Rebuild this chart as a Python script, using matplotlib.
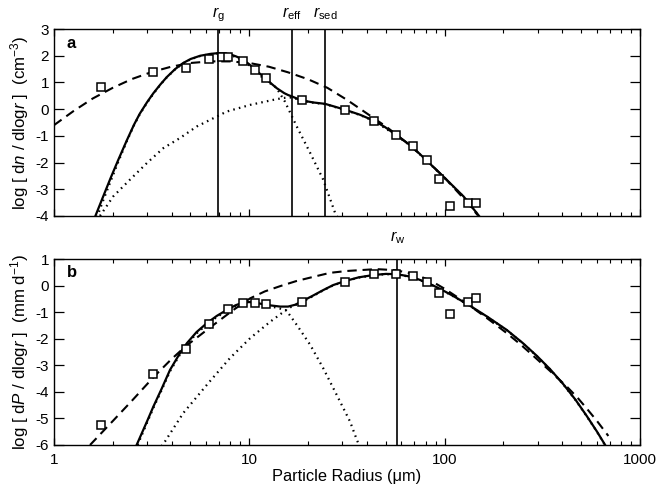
import matplotlib

matplotlib.use("Agg")
import matplotlib.pyplot as plt
import matplotlib.transforms as mtransforms
from matplotlib.ticker import LogLocator, NullFormatter, FixedLocator

plt.rcParams["font.family"] = ["Liberation Sans", "DejaVu Sans"]
plt.rcParams["mathtext.fontset"] = "custom"
plt.rcParams["mathtext.rm"] = "Liberation Sans"
plt.rcParams["mathtext.it"] = "Liberation Sans:italic"
plt.rcParams["mathtext.bf"] = "Liberation Sans:bold"

# ---------------- panel a: number distribution ----------------
a_obs_r = [1.74, 3.23, 4.75, 6.24, 7.24, 7.74, 9.25, 10.7, 12.2, 18.6,
           31.0, 43.4, 56.2, 68.5, 81.1, 93.5, 106, 131, 144]
a_obs_y = [0.83, 1.41, 1.54, 1.88, 1.94, 1.96, 1.80, 1.48, 1.15, 0.33,
           -0.02, -0.45, -0.95, -1.37, -1.91, -2.61, -3.62, -3.53, -3.52]

a_fit_r = [1.63, 1.78, 1.95, 2.14, 2.36, 2.57, 2.75, 2.99, 3.23, 3.51, 3.78, 4.17,
           4.59, 5.01, 5.60, 6.31, 6.93, 7.40, 7.96, 8.60, 9.31, 10.0, 10.7, 11.5,
           12.3, 13.0, 13.8, 14.4, 15.1, 15.8, 16.5, 17.5, 18.5, 21.3, 24.4, 27.5,
           30.9, 36.9, 43.4, 49.5, 56.0, 68.1, 80.5, 98.4, 125, 150]
a_fit_y = [-4.00, -3.30, -2.58, -1.88, -1.17, -0.58, -0.17, 0.25, 0.60, 0.93, 1.20, 1.50,
           1.73, 1.88, 2.00, 2.07, 2.10, 2.09, 2.06, 1.97, 1.85, 1.68, 1.48, 1.29,
           1.10, 0.95, 0.79, 0.70, 0.60, 0.53, 0.48, 0.40, 0.33, 0.25, 0.20, 0.09,
           -0.02, -0.21, -0.43, -0.67, -0.95, -1.40, -1.91, -2.52, -3.27, -4.00]

a_lognorm_r = [1.0, 1.26, 1.58, 2.0, 2.51, 3.16, 3.98, 5.01, 6.31, 7.94, 10.0, 12.6,
               15.8, 20.0, 25.1, 31.6, 39.8, 50.1, 63.1, 79.4, 100, 126, 148]
a_lognorm_y = [-0.60, -0.07, 0.40, 0.80, 1.13, 1.39, 1.59, 1.73, 1.79, 1.79, 1.73, 1.59,
               1.38, 1.12, 0.80, 0.35, -0.15, -0.65, -1.22, -1.86, -2.57, -3.37, -3.98]

a_small_r = [1.66, 1.78, 1.95, 2.14, 2.36, 2.57, 2.75, 2.99, 3.23, 3.51, 3.78, 4.17,
             4.59, 5.01, 5.60, 6.31, 6.93, 7.96, 9.31, 10.7, 12.3, 13.3, 13.9, 15.2,
             17.5, 20.5, 23.9, 27.5, 28.3]
a_small_y = [-4.05, -3.45, -2.70, -1.95, -1.20, -0.60, -0.19, 0.23, 0.58, 0.92, 1.19, 1.49,
             1.72, 1.87, 1.99, 2.06, 2.09, 2.04, 1.83, 1.45, 1.02, 0.91, 0.75, 0.29,
             -0.65, -1.64, -2.64, -3.89, -4.05]

a_large_r = [1.72, 2.01, 2.45, 2.99, 3.63, 4.42, 5.38, 6.93, 7.66, 10.1, 13.3, 14.9,
             16.6, 18.5, 21.3, 24.4, 30.9, 36.9, 43.4, 56.0, 68.1, 80.5, 98.4, 125, 150]
a_large_y = [-4.00, -3.27, -2.64, -2.02, -1.46, -1.08, -0.65, -0.25, -0.09, 0.16, 0.35, 0.42,
             0.44, 0.32, 0.24, 0.19, -0.03, -0.22, -0.44, -0.96, -1.41, -1.92, -2.53, -3.28, -4.00]

# ---------------- panel b: precipitation distribution ----------------
b_obs_r = [1.74, 3.23, 4.73, 6.24, 7.74, 9.29, 10.7, 12.2, 18.6,
           31.0, 43.4, 56.5, 68.9, 81.1, 93.5, 106, 131, 144]
b_obs_y = [-5.24, -3.33, -2.38, -1.44, -0.89, -0.64, -0.67, -0.70, -0.60,
           0.15, 0.44, 0.42, 0.37, 0.12, -0.29, -1.08, -0.63, -0.45]

b_fit_r = [2.65, 3.0, 3.23, 3.55, 3.93, 4.37, 4.79, 5.37, 6.05, 6.82, 7.66, 8.51,
           9.29, 10.0, 10.7, 12.3, 14.4, 15.8, 17.2, 18.5, 20.9, 23.9, 26.9, 30.9,
           36.3, 43.4, 50.1, 56.9, 67.6, 80.9, 94.6, 110, 135, 166, 208, 251, 296,
           347, 406, 468, 533, 603, 676]
b_fit_y = [-6.00, -5.10, -4.55, -3.90, -3.17, -2.60, -2.17, -1.75, -1.42, -1.14, -0.92, -0.74,
           -0.64, -0.62, -0.64, -0.73, -0.79, -0.79, -0.72, -0.60, -0.40, -0.17, 0.02, 0.17,
           0.31, 0.40, 0.44, 0.43, 0.33, 0.12, -0.12, -0.38, -0.76, -1.18, -1.67, -2.16, -2.64,
           -3.15, -3.72, -4.30, -4.90, -5.50, -6.10]

b_lognorm_r = [1.53, 2.0, 2.51, 3.23, 3.98, 4.73, 6.24, 8.28, 10.1, 12.0, 14.4, 17.4,
               21.3, 25.9, 31.6, 44.7, 56.2, 70.8, 85.1, 100, 117, 140, 170,
               208, 245, 284, 347, 422, 479, 533, 603, 689]
b_lognorm_y = [-6.00, -5.10, -4.33, -3.45, -2.78, -2.28, -1.60, -0.92, -0.48, -0.22, -0.02, 0.17,
               0.33, 0.48, 0.55, 0.62, 0.58, 0.42, 0.18, -0.12, -0.45, -0.85, -1.30,
               -1.79, -2.22, -2.64, -3.22, -3.80, -4.22, -4.62, -5.10, -5.66]

b_small_r = [2.68, 3.0, 3.23, 3.55, 3.93, 4.37, 4.79, 5.37, 6.05, 6.82, 7.66, 8.51,
             9.29, 10.0, 10.7, 12.3, 14.0, 15.5, 17.5, 20.5, 23.9, 28.0, 32.8, 35.5, 36.7]
b_small_y = [-6.00, -5.15, -4.60, -3.95, -3.22, -2.65, -2.22, -1.80, -1.47, -1.18, -0.96, -0.78,
             -0.68, -0.66, -0.68, -0.76, -0.84, -0.94, -1.48, -2.23, -3.11, -4.11, -5.12, -5.80, -6.05]

b_large_r = [3.55, 3.70, 4.59, 6.17, 7.96, 10.1, 12.8, 14.9, 16.2, 18.5, 20.9, 23.9,
             26.9, 30.9, 36.3, 43.4, 50.1, 56.9, 67.6, 80.9, 94.6, 110, 135, 166, 208,
             251, 296, 347, 406, 468, 533, 603, 676]
b_large_y = [-6.05, -5.87, -4.80, -3.67, -2.73, -1.98, -1.36, -1.00, -0.82, -0.63, -0.42, -0.18,
             0.01, 0.16, 0.30, 0.39, 0.43, 0.42, 0.32, 0.11, -0.13, -0.39, -0.77, -1.19, -1.68,
             -2.17, -2.65, -3.16, -3.73, -4.31, -4.91, -5.51, -6.11]

# characteristic radii (um)
R_G, R_EFF, R_SED = 6.93, 16.6, 24.5
R_W = 57.2

fig = plt.figure(figsize=(6.58, 4.93), dpi=100)
ax_a = fig.add_axes([0.082, 0.562, 0.8906, 0.379])
ax_b = fig.add_axes([0.082, 0.0974, 0.8906, 0.3772])

FIT = dict(color="black", lw=1.6, zorder=4)
LOGN = dict(color="black", lw=1.5, ls=(0, (4.5, 2.8)), zorder=3)
MODE = dict(color="black", lw=1.6, ls=(0, (0.7, 1.9)), zorder=2)
OBS = dict(ls="none", marker="s", ms=6.0, mfc="white", mec="black", mew=1.1, zorder=6)

ax_a.plot(a_small_r, a_small_y, **MODE)
ax_a.plot(a_large_r, a_large_y, **MODE)
ax_a.plot(a_lognorm_r, a_lognorm_y, **LOGN)
ax_a.plot(a_fit_r, a_fit_y, **FIT)
ax_a.plot(a_obs_r, a_obs_y, **OBS)

ax_b.plot(b_small_r, b_small_y, **MODE)
ax_b.plot(b_large_r, b_large_y, **MODE)
ax_b.plot(b_lognorm_r, b_lognorm_y, **LOGN)
ax_b.plot(b_fit_r, b_fit_y, **FIT)
ax_b.plot(b_obs_r, b_obs_y, **OBS)

for r in (R_G, R_EFF, R_SED):
    ax_a.axvline(r, color="black", lw=1.2, zorder=5)
ax_b.axvline(R_W, color="black", lw=1.2, zorder=5)

trans_a = mtransforms.blended_transform_factory(ax_a.transData, ax_a.transAxes)
trans_b = mtransforms.blended_transform_factory(ax_b.transData, ax_b.transAxes)
for r, lab in ((R_G, r"$r_{\rm g}$"), (R_EFF, r"$r_{\rm eff}$"), (R_SED, r"$r_{\rm sed}$")):
    ax_a.text(r, 1.064, lab, transform=trans_a, ha="center", va="baseline", fontsize=11.5)
ax_b.text(R_W, 1.095, r"$r_{\rm w}$", transform=trans_b, ha="center", va="baseline", fontsize=11.5)

for ax, lo, hi in ((ax_a, -4, 3), (ax_b, -6, 1)):
    ax.set_xscale("log")
    ax.set_xlim(1, 1000)
    ax.set_ylim(lo, hi)
    ax.yaxis.set_major_locator(FixedLocator(list(range(lo, hi + 1))))
    ax.xaxis.set_major_locator(LogLocator(base=10, numticks=10))
    ax.xaxis.set_minor_locator(LogLocator(base=10, subs=range(2, 10), numticks=10))
    ax.xaxis.set_minor_formatter(NullFormatter())
    ax.tick_params(which="both", direction="in", top=True, right=True, labelsize=11)
    ax.tick_params(axis="y", which="major", length=7, width=0.9)
    ax.tick_params(axis="x", which="major", length=5, width=0.9)
    ax.tick_params(axis="x", which="minor", length=3, width=0.8)
    for s in ax.spines.values():
        s.set_linewidth(1.0)

ax_a.set_yticklabels([str(v) for v in range(-4, 4)])
ax_b.set_yticklabels([str(v) for v in range(-6, 2)])
ax_a.xaxis.set_major_formatter(NullFormatter())
ax_b.set_xticks([1, 10, 100, 1000])
ax_b.set_xticklabels(["1", "10", "100", "1000"])
ax_b.tick_params(axis="x", pad=6)

ax_a.set_ylabel(r"log [ d$n$ / dlog$r$ ]  (cm$^{-3}$)", fontsize=12.2, labelpad=3)
ax_b.set_ylabel(r"log [ d$P$ / dlog$r$ ]  (mm d$^{-1}$)", fontsize=12.2, labelpad=3)
ax_b.set_xlabel("Particle Radius (\u03bcm)", fontsize=11.8, labelpad=1)

ax_a.text(0.03, 0.925, "a", transform=ax_a.transAxes, fontsize=12,
          fontweight="bold", ha="center", va="center")
ax_b.text(0.03, 0.925, "b", transform=ax_b.transAxes, fontsize=12,
          fontweight="bold", ha="center", va="center")

fig.savefig("out.png", dpi=100)
